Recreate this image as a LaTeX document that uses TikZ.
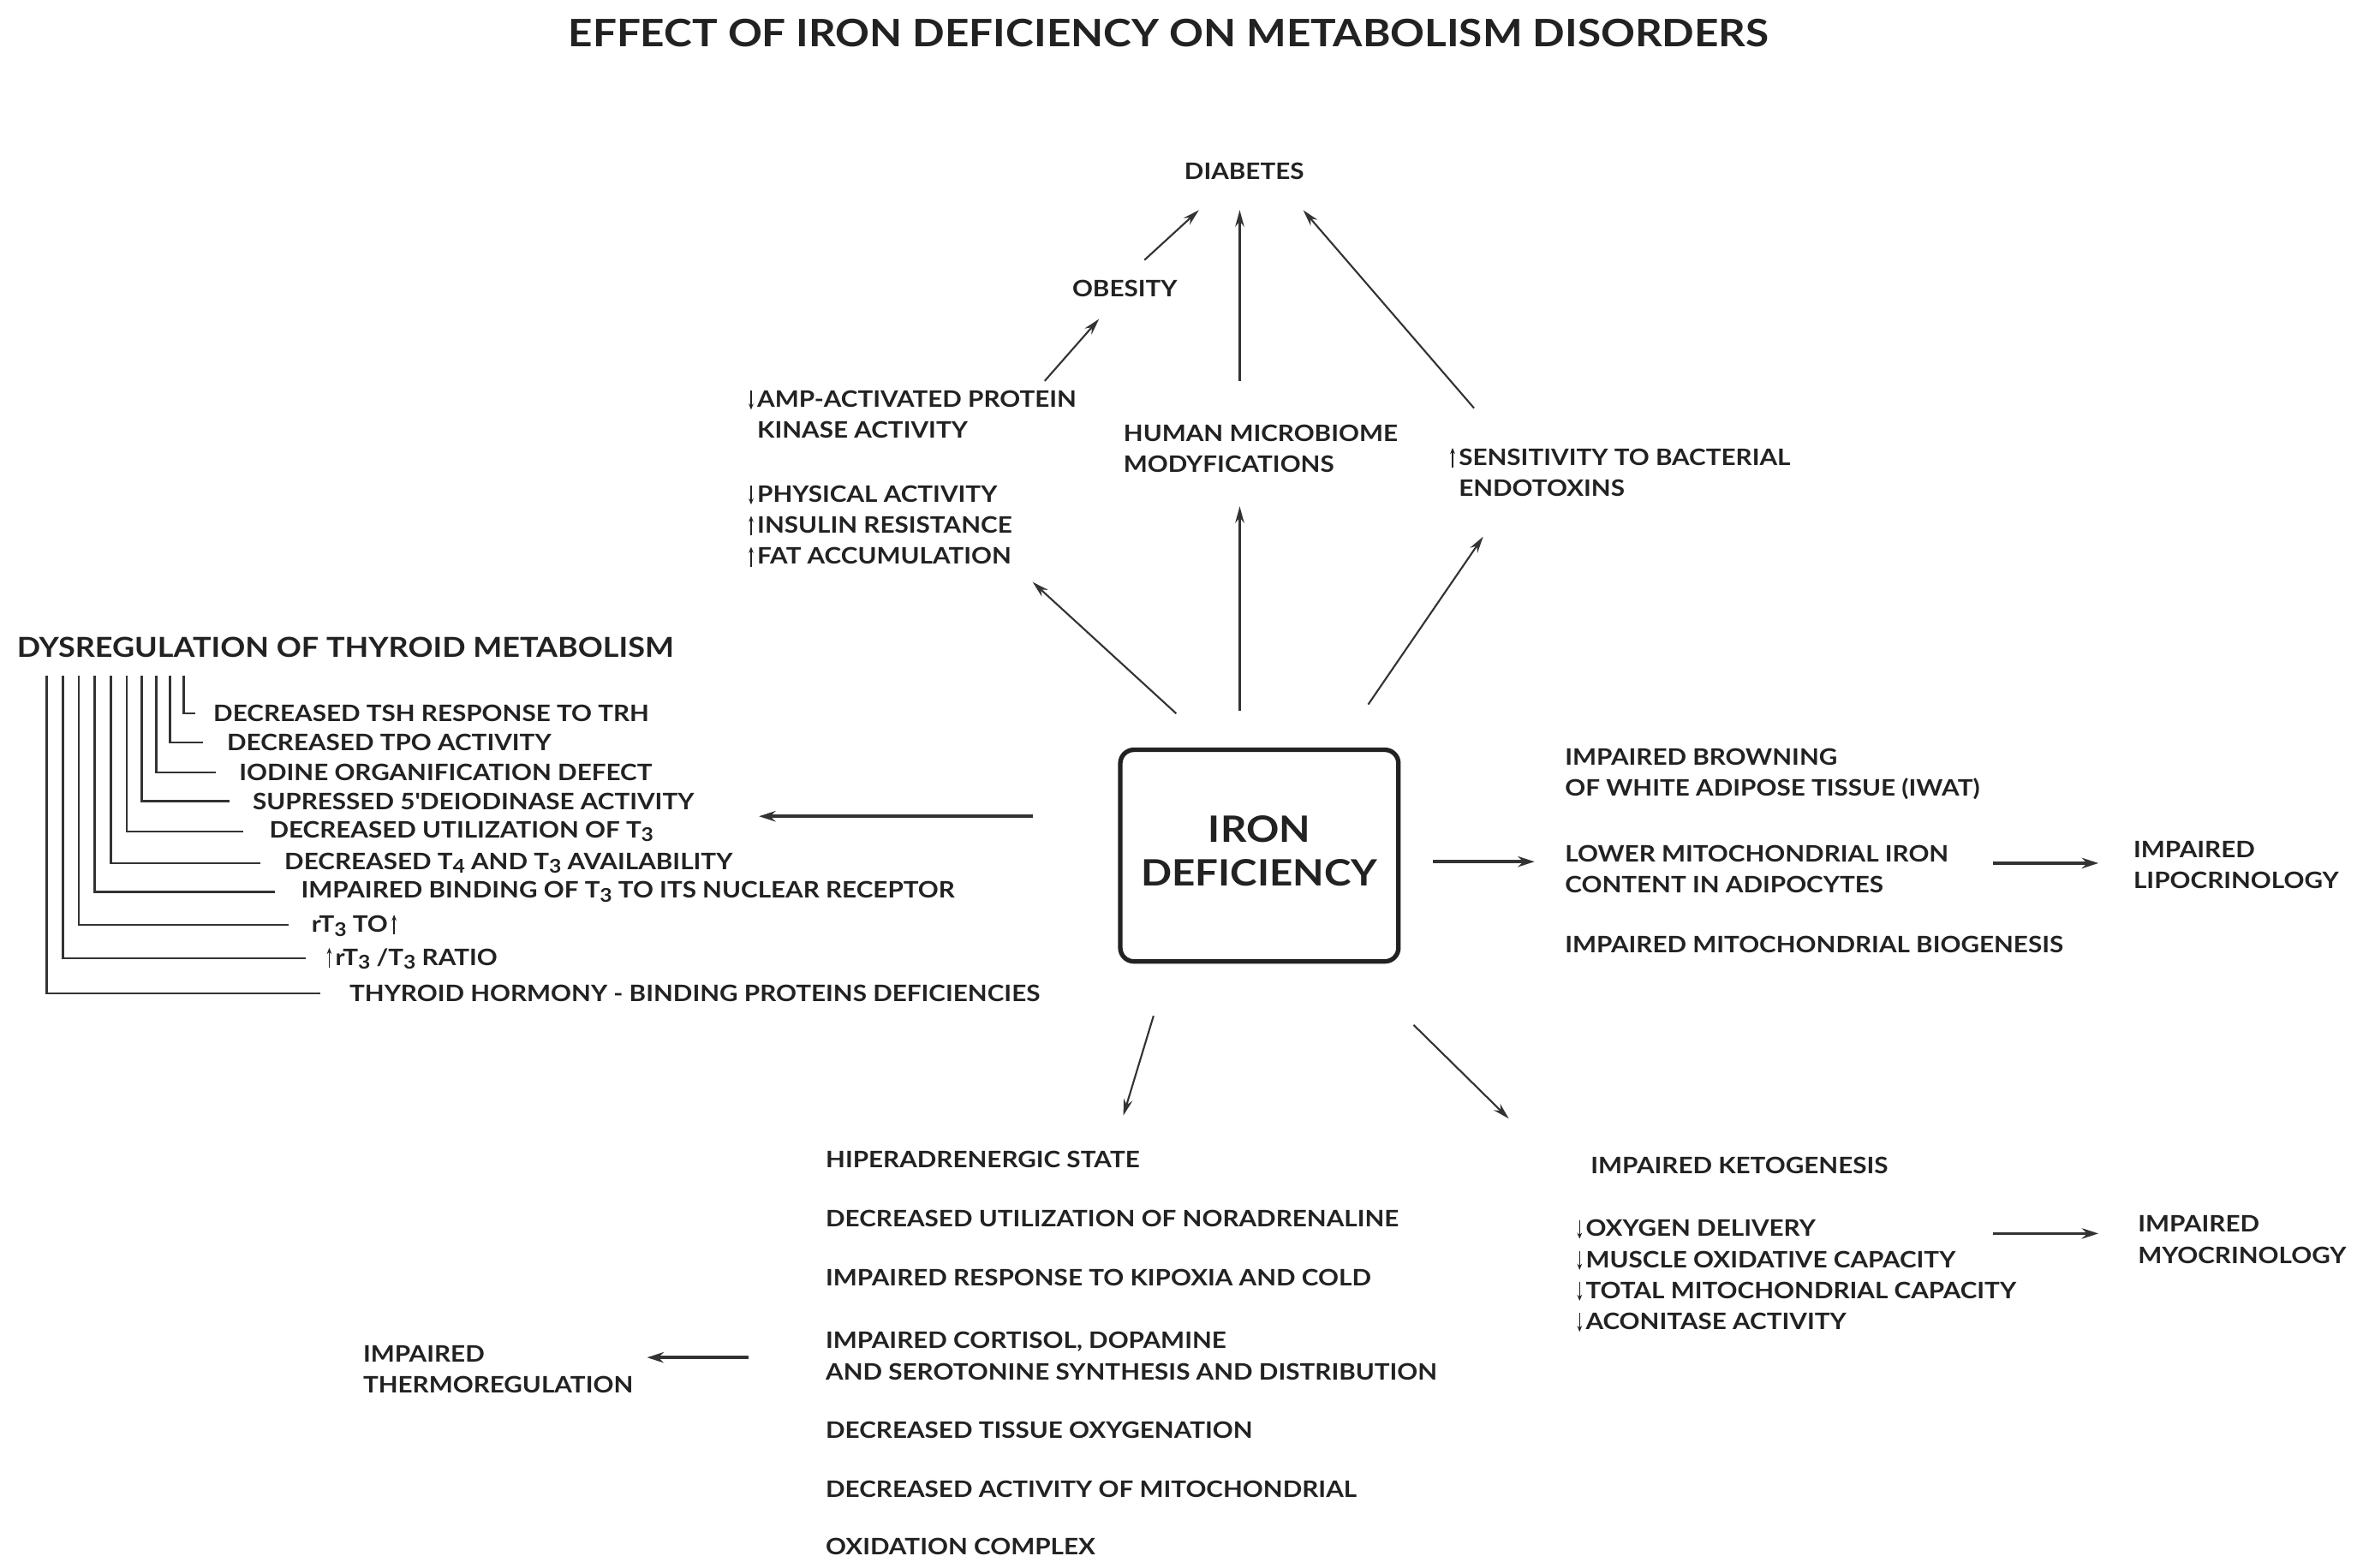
\documentclass[tikz,border=0pt]{standalone}
\usepackage{fontspec}
\setmainfont{Lato}[FakeStretch=1.12]
\usetikzlibrary{arrows.meta}
\definecolor{ink}{HTML}{222222}
\definecolor{lineink}{HTML}{333333}
\newcommand{\mydn}{\tikz[baseline=0pt,x=1pt,y=1pt]\draw[draw=ink,line width=0.9pt,-{Stealth[length=4pt,width=3.2pt]}] (0,11) -- (0,-1.5);}
\newcommand{\myup}{\tikz[baseline=0pt,x=1pt,y=1pt]\draw[draw=ink,line width=0.9pt,-{Stealth[length=4pt,width=3.2pt]}] (0,-1.5) -- (0,11.5);}
\newcommand{\tsub}[1]{\raisebox{-0.35ex}{\fontsize{12.5}{12.5}\selectfont #1}}
\newcommand{\bodyfont}{\bfseries\fontsize{15}{20.5}\selectfont}
\tikzset{
  T/.style={font=\bodyfont, inner sep=0pt, anchor=west, align=left, text=ink},
  arr/.style={-{Stealth[length=11pt,width=6pt]}, line width=1.2pt, draw=lineink},
  harr/.style={-{Stealth[length=11pt,width=7pt]}, line width=2pt, draw=lineink},
  tree/.style={line width=1.3pt, draw=lineink},
}
\begin{document}
\begin{tikzpicture}[x=1pt,y=-1pt]
\useasboundingbox (0,0) rectangle (1563,1037);
% title
\node[font=\bfseries\fontsize{25}{25}\selectfont, text=ink, inner sep=0pt] (title) at (773,22) {EFFECT OF IRON DEFICIENCY ON METABOLISM DISORDERS};
% central box
\node[draw=ink, line width=3pt, rounded corners=9pt, minimum width=184pt, minimum height=140pt, inner sep=0pt] (iron) at (833,566) {};
\node[align=center, font=\bfseries\fontsize{24}{29}\selectfont, text=ink, inner sep=0pt] (irontext) at (833,563) {IRON\\DEFICIENCY};
% top
\node[T, anchor=center] (diab) at (823,113) {DIABETES};
\node[T, anchor=center] (obes) at (744,191) {OBESITY};
\node[T] (amp) at (495,275) {\mydn\,AMP-ACTIVATED PROTEIN\\\phantom{\mydn\,}KINASE ACTIVITY};
\node[T] (micro) at (743,297) {HUMAN MICROBIOME\\MODYFICATIONS};
\node[T] (sens) at (959,313) {\myup\,SENSITIVITY TO BACTERIAL\\\phantom{\myup\,}ENDOTOXINS};
\node[T] (phys) at (495,348) {\mydn\,PHYSICAL ACTIVITY\\\myup\,INSULIN RESISTANCE\\\myup\,FAT ACCUMULATION};
\coordinate (a1s) at (757,172); \coordinate (a1e) at (793,139);
\coordinate (a2s) at (820,252); \coordinate (a2e) at (820,139);
\coordinate (a3s) at (975,270); \coordinate (a3e) at (862,139);
\coordinate (a4s) at (691,252); \coordinate (a4e) at (727,211);
\coordinate (a5s) at (778,472); \coordinate (a5e) at (683,385);
\coordinate (a6s) at (820,470); \coordinate (a6e) at (820,335);
\coordinate (a7s) at (905,466); \coordinate (a7e) at (981,355);
\draw[arr] (a1s) -- (a1e);
\draw[arr] (a2s) -- (a2e);
\draw[arr] (a3s) -- (a3e);
\draw[arr] (a4s) -- (a4e);
\draw[arr] (a5s) -- (a5e);
\draw[arr] (a6s) -- (a6e);
\draw[arr] (a7s) -- (a7e);
% thyroid
\node[T, font=\bfseries\fontsize{18.2}{18.2}\selectfont] (thy) at (11,428) {DYSREGULATION OF THYROID METABOLISM};
\foreach \vx/\hx/\tx/\ty/\nm/\txt in {
  121.5/129/141/472/t1/{DECREASED TSH RESPONSE TO TRH},
  112.4/134/150/491/t2/{DECREASED TPO ACTIVITY},
  103.4/143/158/511/t3/{IODINE ORGANIFICATION DEFECT},
  93.8/152/167/530/t4/{SUPRESSED 5\textquotesingle DEIODINASE ACTIVITY},
  83.9/161/178/550/t5/{DECREASED UTILIZATION OF T\tsub{3}},
  73.4/172/188/571/t6/{DECREASED T\tsub{4} AND T\tsub{3} AVAILABILITY},
  62.6/182/199/590/t7/{IMPAIRED BINDING OF T\tsub{3} TO ITS NUCLEAR RECEPTOR},
  52.1/191/206/612/t8/{rT\tsub{3} TO\,\myup},
  41.7/202/216/634/t9/{\myup\,rT\tsub{3} /T\tsub{3} RATIO},
  30.8/212/231/657/t10/{THYROID HORMONY - BINDING PROTEINS DEFICIENCIES}} {
  \node[T] (\nm) at (\tx,\ty) {\txt};
  \draw[tree] (\vx,447) |- (\hx,\ty);
}
\coordinate (a8s) at (683,540); \coordinate (a8e) at (502,540);
\draw[harr] (a8s) -- (a8e);
% right
\node[T] (brown) at (1035,512) {IMPAIRED BROWNING\\OF WHITE ADIPOSE TISSUE (IWAT)};
\node[T] (lower) at (1035,575) {LOWER MITOCHONDRIAL IRON\\CONTENT IN ADIPOCYTES};
\node[T] (bio) at (1035,625) {IMPAIRED MITOCHONDRIAL BIOGENESIS};
\node[T] (lipo) at (1411,572) {IMPAIRED\\LIPOCRINOLOGY};
\coordinate (a9s) at (948,570); \coordinate (a9e) at (1015,570);
\coordinate (a10s) at (1318,571); \coordinate (a10e) at (1388,571);
\draw[harr] (a9s) -- (a9e);
\draw[harr] (a10s) -- (a10e);
% bottom arrows
\coordinate (a11s) at (763,672); \coordinate (a11e) at (743,738);
\coordinate (a12s) at (935,678); \coordinate (a12e) at (998,740);
\draw[arr] (a11s) -- (a11e);
\draw[arr] (a12s) -- (a12e);
% bottom centre
\node[T] (b1) at (546,767) {HIPERADRENERGIC STATE};
\node[T] (b2) at (546,806) {DECREASED UTILIZATION OF NORADRENALINE};
\node[T] (b3) at (546,845) {IMPAIRED RESPONSE TO KIPOXIA AND COLD};
\node[T] (b4) at (546,897) {IMPAIRED CORTISOL, DOPAMINE\\AND SEROTONINE SYNTHESIS AND DISTRIBUTION};
\node[T] (b5) at (546,946) {DECREASED TISSUE OXYGENATION};
\node[T] (b6) at (546,985) {DECREASED ACTIVITY OF MITOCHONDRIAL};
\node[T] (b7) at (546,1023) {OXIDATION COMPLEX};
\node[T] (thermo) at (240,906) {IMPAIRED\\THERMOREGULATION};
\coordinate (a13s) at (495,898); \coordinate (a13e) at (428,898);
\draw[harr] (a13s) -- (a13e);
% bottom right
\node[T] (keto) at (1052,771) {IMPAIRED KETOGENESIS};
\node[T] (oxy) at (1043,844) {\mydn\,OXYGEN DELIVERY\\\mydn\,MUSCLE OXIDATIVE CAPACITY\\\mydn\,TOTAL MITOCHONDRIAL CAPACITY\\\mydn\,ACONITASE ACTIVITY};
\node[T] (myo) at (1414,820) {IMPAIRED\\MYOCRINOLOGY};
\coordinate (a14s) at (1318,816); \coordinate (a14e) at (1388,816);
\draw[harr] (a14s) -- (a14e);
\end{tikzpicture}
\end{document}
